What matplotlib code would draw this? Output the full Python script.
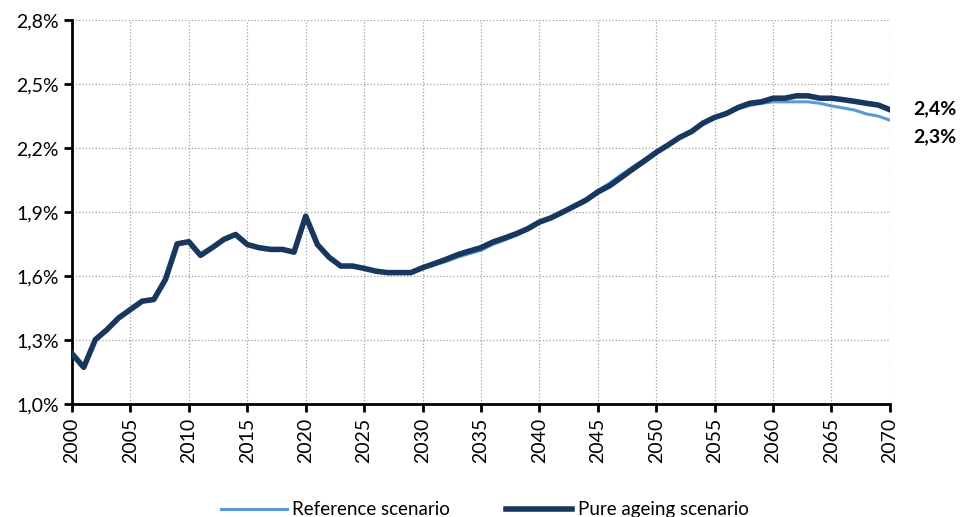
import numpy as np
import matplotlib
matplotlib.use("Agg")
import matplotlib.pyplot as plt
from matplotlib.ticker import FuncFormatter, FixedLocator

plt.rcParams['font.family'] = ['Lato', 'DejaVu Sans']

# data (share of GDP, %)
years = list(range(2000, 2071))

pure_ageing = [
    1.236, 1.172, 1.302, 1.349, 1.404, 1.443, 1.482, 1.490, 1.584, 1.751,
    1.761, 1.697, 1.733, 1.772, 1.795, 1.748, 1.733, 1.725, 1.725, 1.712,
    1.881, 1.748, 1.688, 1.647, 1.647, 1.636, 1.623, 1.616, 1.616, 1.616,
    1.639, 1.658, 1.678, 1.700, 1.717, 1.733, 1.759, 1.778, 1.798, 1.822,
    1.853, 1.873, 1.900, 1.928, 1.956, 1.994, 2.023, 2.062, 2.102, 2.140,
    2.180, 2.214, 2.250, 2.277, 2.317, 2.344, 2.362, 2.390, 2.410, 2.417,
    2.434, 2.434, 2.445, 2.445, 2.434, 2.434, 2.427, 2.419, 2.410, 2.402,
    2.380,
]

reference = [
    1.236, 1.172, 1.302, 1.349, 1.404, 1.443, 1.482, 1.490, 1.584, 1.751,
    1.761, 1.697, 1.733, 1.772, 1.795, 1.748, 1.733, 1.725, 1.725, 1.712,
    1.881, 1.748, 1.688, 1.647, 1.647, 1.636, 1.623, 1.616, 1.616, 1.616,
    1.636, 1.652, 1.668, 1.688, 1.705, 1.720, 1.748, 1.768, 1.790, 1.815,
    1.848, 1.873, 1.902, 1.932, 1.962, 2.002, 2.035, 2.075, 2.112, 2.148,
    2.184, 2.214, 2.250, 2.277, 2.315, 2.340, 2.358, 2.385, 2.400, 2.410,
    2.417, 2.417, 2.417, 2.417, 2.410, 2.398, 2.388, 2.378, 2.360, 2.350,
    2.331,
]

y_ticks = [1.0, 1.3, 1.6, 1.9, 2.2, 2.5, 2.8]
x_ticks = list(range(2000, 2071, 5))
end_labels = ["2,4%", "2,3%"]

fig = plt.figure(figsize=(9.6, 5.17), dpi=100)
ax = fig.add_axes([0.075, 0.2186, 0.852, 0.7424])

ax.plot(years, reference, color="#5B9BD5", lw=2.2, label="Reference scenario", zorder=3)
ax.plot(years, pure_ageing, color="#17375E", lw=4.0, label="Pure ageing scenario", zorder=4)

ax.set_xlim(2000, 2070)
ax.set_ylim(1.0, 2.8)
ax.xaxis.set_major_locator(FixedLocator(x_ticks))
ax.yaxis.set_major_locator(FixedLocator(y_ticks))
ax.yaxis.set_major_formatter(FuncFormatter(lambda v, p: f"{v:.1f}%".replace(".", ",")))
plt.setp(ax.get_xticklabels(), rotation=90)

ax.grid(True, color="#A0A0A0", linestyle=":", linewidth=0.9)
ax.set_axisbelow(True)
for s in ["top", "right"]:
    ax.spines[s].set_visible(False)
for s in ["left", "bottom"]:
    ax.spines[s].set_linewidth(2)
ax.tick_params(axis="both", length=6, width=2, labelsize=14, direction="out")
ax.tick_params(axis="x", pad=4)

# end-of-line labels
ax.text(1.028, (2.385 - 1.0) / 1.8, end_labels[0], transform=ax.transAxes,
        fontsize=14, fontweight="bold", va="center", ha="left")
ax.text(1.028, (2.255 - 1.0) / 1.8, end_labels[1], transform=ax.transAxes,
        fontsize=14, fontweight="bold", va="center", ha="left")

fig.legend(loc="lower center", bbox_to_anchor=(0.505, -0.035), ncol=2, frameon=False,
           fontsize=13.5, handlelength=3.5, columnspacing=3.0, handletextpad=0.3)

fig.savefig("out.png", dpi=100)
